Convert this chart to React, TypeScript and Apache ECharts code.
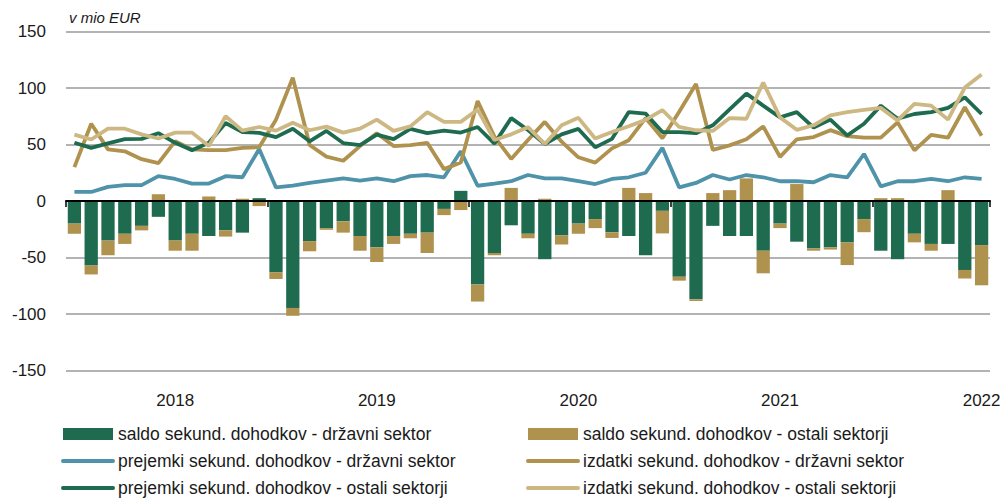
import React, { useEffect, useRef } from "react";
import * as echarts from "echarts";

const months: string[] = [
  "2018-01","2018-02","2018-03","2018-04","2018-05","2018-06","2018-07","2018-08","2018-09","2018-10","2018-11","2018-12",
  "2019-01","2019-02","2019-03","2019-04","2019-05","2019-06","2019-07","2019-08","2019-09","2019-10","2019-11","2019-12",
  "2020-01","2020-02","2020-03","2020-04","2020-05","2020-06","2020-07","2020-08","2020-09","2020-10","2020-11","2020-12",
  "2021-01","2021-02","2021-03","2021-04","2021-05","2021-06","2021-07","2021-08","2021-09","2021-10","2021-11","2021-12",
  "2022-01","2022-02","2022-03","2022-04","2022-05","2022-06","2022-07",
];

const saldoDrzavni: number[] = [
  -20, -57, -35, -29, -22, -14, -35, -29, -31, -26, -28, 2.5,
  -63, -94.6, -35.5, -24, -18, -31, -41, -31, -29, -28, -7, 9,
  -74, -46, -21.5, -29, -51.5, -30.5, -20, -16, -27.7, -31, -48, -8.7,
  -67, -87, -22, -31, -31, -44, -20, -36, -42, -41, -36.7, -16,
  -44, -51.5, -29, -38, -38, -61, -39,
];

const saldoOstali: number[] = [
  -9, -8, -13, -9, -4, 6, -9, -15, 4, -5.5, 2, -4.5,
  -6, -7, -9, -1.5, -10, -13, -13, -7, -4, -18, -5.5, -8,
  -15, -2, 11.6, -4, 2, -8, -9, -8, -5, 11.6, 7, -20,
  -3.5, -1.5, 7, 9.6, 20, -20, -4, 15, -2, -2, -20, -11.6,
  2.5, 2.5, -7.6, -6, 9.6, -7.6, -35.6,
];

const prejemkiDrzavni: number[] = [
  8, 8, 12.5, 14, 14, 22, 19.5, 15.4, 15.4, 22, 21, 46,
  12, 13.7, 16, 18, 20, 18, 20, 17.5, 22, 23, 21, 44,
  13.5, 15.4, 17.5, 23, 20, 20, 17.5, 15, 19.5, 21, 25, 47,
  12, 16, 23, 19, 23, 21, 17.5, 17.5, 16.6, 23, 21, 41.6,
  13, 17.5, 17.5, 19.5, 17.5, 21, 19.5,
];

const izdatkiDrzavni: number[] = [
  30, 68.4, 45.7, 44, 37, 33.5, 53, 45.7, 45, 45, 47, 47.6,
  72, 109, 49.6, 39.3, 35.6, 48.6, 60, 48.6, 49.5, 51.5, 28.2, 34,
  88.4, 57, 37.2, 54, 70, 52.5, 38.7, 34, 46.6, 53.8, 73.4, 55.5,
  79, 103.5, 45.2, 49.2, 54.6, 66, 39, 54.6, 56.6, 62.7, 57.4, 56,
  56, 69.6, 44.8, 58.5, 56, 83, 57.7,
];

const prejemkiOstali: number[] = [
  51.5, 47, 51, 54.7, 55, 60, 51.5, 45, 51.5, 69, 61, 60.3,
  56.5, 64, 52.8, 62, 51.3, 49.5, 58.8, 54.7, 63.8, 60, 62.3, 60.6,
  65.5, 50.8, 73.3, 62.8, 50.3, 59, 63.8, 47.5, 55, 78.7, 77.3, 61,
  61, 60, 67, 81, 95, 84.4, 74, 78.6, 65, 72, 58, 68.4,
  84.4, 72.8, 77, 78.6, 82.4, 91.7, 77,
];

const izdatkiOstali: number[] = [
  58.8, 54.4, 64, 64, 59, 55.3, 60.5, 60.5, 48.6, 75, 62.3, 65.5,
  62.3, 69.2, 62.6, 65.8, 60.5, 64, 72, 62, 66, 78.6, 70, 70,
  81, 54, 59, 65.3, 50.5, 67, 73.6, 55.3, 61, 66.2, 71.8, 80.5,
  65.5, 62.6, 62, 73.4, 72.8, 104.8, 74, 63, 67, 75.7, 78.6, 80.6,
  82.4, 71.3, 86, 84.4, 72, 100.4, 112,
];

const NAMES = {
  sd: "saldo sekund. dohodkov - državni sektor",
  so: "saldo sekund. dohodkov - ostali sektorji",
  pd: "prejemki sekund. dohodkov - državni sektor",
  id: "izdatki sekund. dohodkov - državni sektor",
  po: "prejemki sekund. dohodkov - ostali sektorji",
  io: "izdatki sekund. dohodkov - ostali sektorji",
};

const GREEN = "#1f6b50";
const GOLD = "#b0924f";
const BLUE = "#4e93a9";
const TAN = "#cdb883";
const FONT = "'Liberation Sans', Arial, sans-serif";

export default function App() {
  const ref = useRef<HTMLDivElement>(null);
  useEffect(() => {
    if (!ref.current) return;
    const chart = echarts.init(ref.current, undefined, { renderer: "svg" });
    const lineSeries = (name: string, data: number[], color: string) => ({
      name,
      type: "line",
      data,
      symbol: "none",
      xAxisIndex: 0,
      yAxisIndex: 0,
      lineStyle: { color, width: 3.8 },
      itemStyle: { color },
      z: 3,
    });
    const hiddenSymbol = { color: "rgba(0,0,0,0)", borderWidth: 0, opacity: 0 };
    const lineItem = (name: string) => ({
      name,
      itemStyle: hiddenSymbol,
      lineStyle: { width: 4, cap: "round" },
    });
    const legendText = { fontSize: 17.5, color: "#1a1a1a", fontFamily: FONT };
    const legendBase = {
      orient: "vertical",
      top: 425,
      padding: 0,
      itemWidth: 50,
      itemHeight: 12,
      itemGap: 9,
      textStyle: legendText,
    };
    chart.setOption({
      animation: false,
      textStyle: { fontFamily: FONT },
      grid: { left: 66, right: 16, top: 31.5, bottom: 129.5, containLabel: false },
      graphic: [
        {
          type: "text",
          left: 69,
          top: 10,
          style: { text: "v mio EUR", fontSize: 15, fontStyle: "italic", fill: "#1a1a1a", fontFamily: FONT },
        },
      ],
      legend: [
        {
          ...legendBase,
          left: 61,
          data: [{ name: NAMES.sd, icon: "rect" }, lineItem(NAMES.pd), lineItem(NAMES.po)],
        },
        {
          ...legendBase,
          left: 526,
          data: [{ name: NAMES.so, icon: "rect" }, lineItem(NAMES.id), lineItem(NAMES.io)],
        },
      ],
      xAxis: [
        {
          type: "category",
          data: months,
          position: "bottom",
          axisLine: { show: false, onZero: false },
          axisTick: { show: false },
          splitLine: { show: false },
          axisLabel: {
            interval: (idx: number) => idx % 12 === 6,
            formatter: (v: string) => v.slice(0, 4),
            fontSize: 17,
            color: "#1a1a1a",
            margin: 21,
            fontFamily: FONT,
          },
        },
        {
          type: "category",
          data: months,
          position: "top",
          z: 10,
          axisLine: { show: true, onZero: true, lineStyle: { color: "#000", width: 2 } },
          axisTick: {
            show: true,
            inside: true,
            length: 6,
            interval: (idx: number) => idx % 12 === 0,
            lineStyle: { color: "#000", width: 1.5 },
          },
          axisLabel: { show: false },
          splitLine: { show: false },
        },
      ],
      yAxis: {
        type: "value",
        min: -150,
        max: 150,
        interval: 50,
        axisLine: { show: false },
        axisTick: { show: false },
        axisLabel: { fontSize: 17, color: "#1a1a1a", margin: 20, fontFamily: FONT },
        splitLine: { lineStyle: { color: "#b3b3b3", width: 2 } },
      },
      series: [
        {
          name: NAMES.sd,
          type: "bar",
          stack: "saldo",
          data: saldoDrzavni,
          barCategoryGap: "21%",
          itemStyle: { color: GREEN },
          z: 2,
        },
        {
          name: NAMES.so,
          type: "bar",
          stack: "saldo",
          data: saldoOstali,
          barCategoryGap: "21%",
          itemStyle: { color: GOLD },
          z: 2,
        },
        lineSeries(NAMES.pd, prejemkiDrzavni, BLUE),
        lineSeries(NAMES.id, izdatkiDrzavni, GOLD),
        lineSeries(NAMES.po, prejemkiOstali, GREEN),
        lineSeries(NAMES.io, izdatkiOstali, TAN),
      ],
    });
    return () => chart.dispose();
  }, []);
  return (
    <div
      ref={ref}
      style={{ position: "absolute", left: 0, top: 0, width: 1006, height: 500, background: "#fff" }}
    />
  );
}
